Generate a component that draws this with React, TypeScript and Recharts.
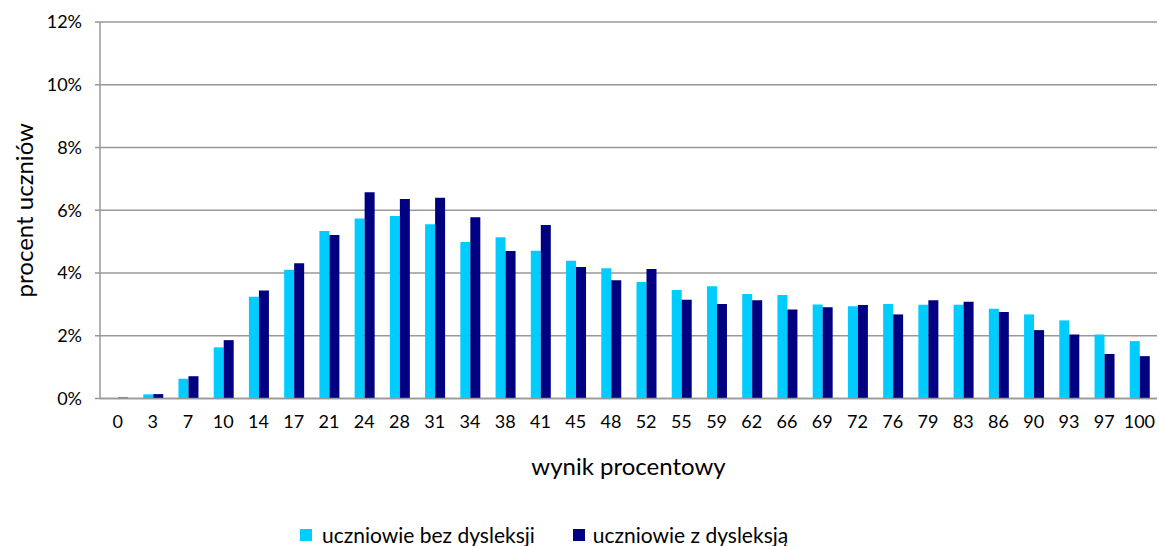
import React from 'react';
import { Bar, BarChart, CartesianGrid, XAxis, YAxis } from 'recharts';

const categories = ['0', '3', '7', '10', '14', '17', '21', '24', '28', '31', '34', '38', '41', '45', '48', '52', '55', '59', '62', '66', '69', '72', '76', '79', '83', '86', '90', '93', '97', '100'];
const withoutDyslexia = [0.0, 0.13, 0.63, 1.63, 3.24, 4.1, 5.34, 5.74, 5.82, 5.55, 4.99, 5.14, 4.71, 4.39, 4.15, 3.71, 3.46, 3.58, 3.33, 3.3, 3.0, 2.94, 3.01, 2.99, 2.99, 2.86, 2.68, 2.49, 2.04, 1.83];
const withDyslexia = [0.03, 0.14, 0.71, 1.86, 3.44, 4.31, 5.21, 6.57, 6.36, 6.4, 5.78, 4.7, 5.53, 4.19, 3.77, 4.13, 3.15, 3.01, 3.13, 2.84, 2.91, 2.98, 2.68, 3.13, 3.08, 2.76, 2.18, 2.04, 1.42, 1.35];
const yTicks = [0, 2, 4, 6, 8, 10, 12];

const data = categories.map((label, i) => ({
	label,
	bez: withoutDyslexia[i],
	z: withDyslexia[i],
}));

const lightColor = '#00ccff';
const darkColor = '#000080';
const gridColor = '#989898';
const font = 'Lato, "Open Sans", sans-serif';

export default function App() {
	return (
		<div style={{ position: 'absolute', left: 0, top: 0, width: 1159, height: 546, background: '#fff', fontFamily: font }}>
			<BarChart
				width={1159}
				height={546}
				data={data}
				margin={{ top: 22, right: 2, left: 0, bottom: 69.5 }}
				barGap={0}
				barSize={10}
			>
				<CartesianGrid vertical={false} stroke={gridColor} strokeWidth={1.5} />
				<XAxis
					dataKey="label"
					height={78}
					axisLine={{ stroke: gridColor, strokeWidth: 1.5 }}
					tickLine={false}
					tickSize={0}
					tickMargin={17}
					interval={0}
					tick={{ fontSize: 18, fill: '#000', fontFamily: font }}
					label={{ value: 'wynik procentowy', position: 'insideBottom', offset: 2, style: { fontSize: 24, fill: '#000', fontFamily: font } }}
				/>
				<YAxis
					width={100}
					domain={[0, 12]}
					ticks={yTicks}
					interval={0}
					tickFormatter={(v) => `${v}%`}
					axisLine={{ stroke: gridColor, strokeWidth: 1.5 }}
					tickLine={{ stroke: gridColor, strokeWidth: 1.5 }}
					tickSize={5}
					tickMargin={13}
					tick={{ fontSize: 18, fill: '#000', fontFamily: font }}
					label={{ value: 'procent uczniów', angle: -90, position: 'insideLeft', offset: 24, style: { textAnchor: 'middle', fontSize: 24, fill: '#000', fontFamily: font } }}
				/>
				<Bar dataKey="bez" fill={lightColor} isAnimationActive={false} />
				<Bar dataKey="z" fill={darkColor} isAnimationActive={false} />
			</BarChart>
			<div style={{ position: 'absolute', left: 300, top: 522, display: 'flex', alignItems: 'center', fontSize: 21, color: '#000', whiteSpace: 'nowrap' }}>
				<span style={{ width: 12, height: 12, background: lightColor, display: 'inline-block', marginRight: 10 }} />
				<span>uczniowie bez dysleksji</span>
				<span style={{ width: 12, height: 12, background: darkColor, display: 'inline-block', marginLeft: 38, marginRight: 8 }} />
				<span>uczniowie z dysleksją</span>
			</div>
		</div>
	);
}
